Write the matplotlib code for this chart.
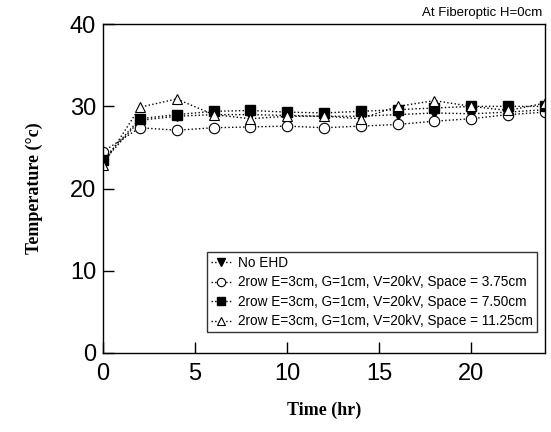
import numpy as np
import matplotlib.pyplot as plt

# Time points (hr)
t = [0, 2, 4, 6, 8, 10, 12, 14, 16, 18, 20, 22, 24]

# Temperatures (deg C)
no_ehd = [23.3, 28.3, 28.8, 29.0, 29.0, 28.9, 28.8, 28.8, 29.0, 29.2, 29.1, 29.3, 29.6]
sp_375 = [24.5, 27.4, 27.1, 27.4, 27.5, 27.6, 27.4, 27.6, 27.8, 28.2, 28.5, 29.0, 29.3]
sp_750 = [23.5, 28.5, 29.0, 29.4, 29.5, 29.3, 29.2, 29.4, 29.6, 29.8, 30.0, 30.0, 30.0]
sp_1125 = [22.9, 29.9, 30.9, 29.0, 28.5, 28.8, 28.8, 28.5, 30.0, 30.7, 30.0, 29.5, 30.4]

labels = ['No EHD',
          '2row E=3cm, G=1cm, V=20kV, Space = 3.75cm',
          '2row E=3cm, G=1cm, V=20kV, Space = 7.50cm',
          '2row E=3cm, G=1cm, V=20kV, Space = 11.25cm']

plt.rcParams['font.family'] = ['Liberation Sans', 'DejaVu Sans']

fig = plt.figure(figsize=(5.51, 4.32), dpi=100)
ax = fig.add_axes([0.187, 0.183, 0.802, 0.761])

ls = dict(color='black', linestyle=':', linewidth=1.0, markersize=7.5)
ax.plot(t, no_ehd, marker='v', mfc='black', mec='black', label=labels[0], **ls)
ax.plot(t, sp_375, marker='o', mfc='white', mec='black', mew=0.8, label=labels[1], **ls)
ax.plot(t, sp_750, marker='s', mfc='black', mec='black', label=labels[2], **ls)
ax.plot(t, sp_1125, marker='^', mfc='white', mec='black', mew=0.8, label=labels[3], **ls)

ax.set_xlim(0, 24)
ax.set_ylim(0, 40)
ax.set_xticks([0, 5, 10, 15, 20])
ax.set_yticks([0, 10, 20, 30, 40])
ax.tick_params(direction='in', length=8, width=1, labelsize=17)
ax.tick_params(axis='x', pad=7)
ax.tick_params(axis='y', pad=5)
for s in ax.spines.values():
    s.set_linewidth(1.0)

ax.set_xlabel('Time (hr)', family='Liberation Serif', fontweight='bold', fontsize=13, labelpad=12)
ax.set_ylabel('Temperature (\u00b0c)', family='Liberation Serif', fontweight='bold', fontsize=13, labelpad=19)

fig.text(0.985, 0.970, 'At Fiberoptic H=0cm', ha='right', va='center', fontsize=9.5)

leg = ax.legend(loc='lower right', bbox_to_anchor=(0.992, 0.05), fontsize=9.8,
                frameon=True, fancybox=False, edgecolor='black', handlelength=1.5,
                handletextpad=0.5, borderpad=0.3, labelspacing=0.4, markerscale=0.8,
                borderaxespad=0.3)
leg.get_frame().set_linewidth(1.0)

fig.savefig('out.png', dpi=100)
